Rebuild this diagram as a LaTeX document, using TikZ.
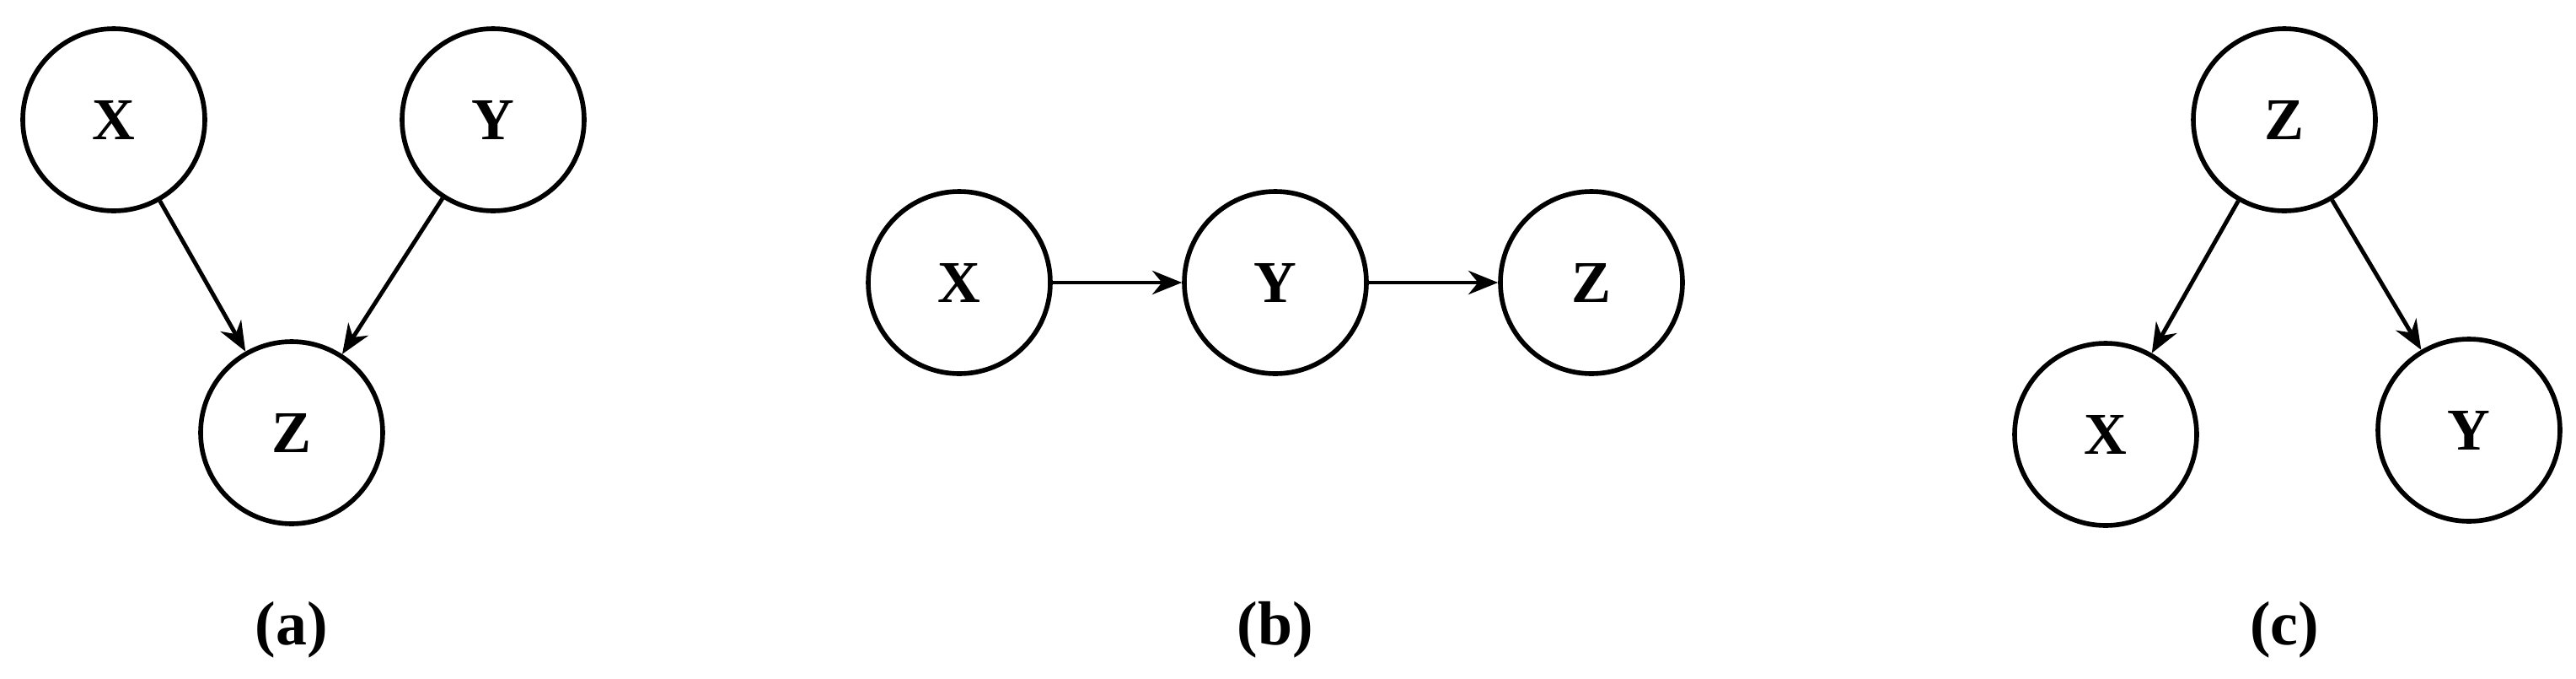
\documentclass[tikz,border=0pt]{standalone}
\usepackage{fontspec}
\setmainfont{Liberation Serif}
\usetikzlibrary{arrows.meta}
\begin{document}
\begin{tikzpicture}[
  nd/.style={circle, draw, line width=1.6pt, minimum size=2.16cm, inner sep=0pt, font=\fontsize{20}{24}\selectfont\bfseries},
  ar/.style={-{Stealth[length=10pt,width=8pt]}, line width=1.4pt},
  lb/.style={font=\fontsize{21}{25}\selectfont\bfseries}]
\useasboundingbox (0,0) rectangle (30.56,8.04);
% (a)
\node[nd] (aX) at (1.35,6.62) {X};
\node[nd] (aY) at (5.85,6.62) {Y};
\node[nd] (aZ) at (3.46,2.91) {Z};
\draw[ar] (aX) -- (aZ);
\draw[ar] (aY) -- (aZ);
\node[lb] (la) at (3.46,0.57) {(a)};
% (b)
\node[nd] (bX) at (11.38,4.69) {X};
\node[nd] (bY) at (15.13,4.69) {Y};
\node[nd] (bZ) at (18.88,4.69) {Z};
\draw[ar] (bX) -- (bY);
\draw[ar] (bY) -- (bZ);
\node[lb] (lb) at (15.13,0.57) {(b)};
% (c)
\node[nd] (cZ) at (27.10,6.62) {Z};
\node[nd] (cX) at (24.98,2.89) {X};
\node[nd] (cY) at (29.29,2.94) {Y};
\draw[ar] (cZ) -- (cX);
\draw[ar] (cZ) -- (cY);
\node[lb] (lc) at (27.10,0.57) {(c)};
\end{tikzpicture}
\end{document}
